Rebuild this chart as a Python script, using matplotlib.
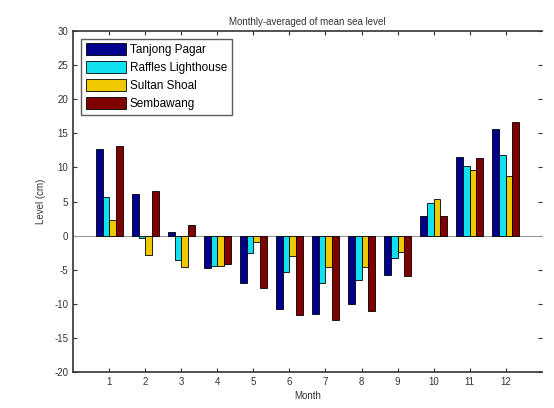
import numpy as np
import matplotlib
matplotlib.use('Agg')
import matplotlib.pyplot as plt

plt.rcParams['font.family'] = ['Liberation Sans', 'DejaVu Sans']
plt.rcParams['axes.unicode_minus'] = False

months = [1, 2, 3, 4, 5, 6, 7, 8, 9, 10, 11, 12]
stations = ['Tanjong Pagar', 'Raffles Lighthouse', 'Sultan Shoal', 'Sembawang']
tanjong = [12.7, 6.1, 0.5, -4.7, -7.0, -10.7, -11.5, -10.0, -5.7, 2.9, 11.5, 15.7]
raffles = [5.6, -0.3, -3.5, -4.5, -2.6, -5.3, -6.9, -6.5, -3.3, 4.8, 10.2, 11.8]
sultan = [2.3, -2.9, -4.6, -4.4, -0.9, -3.0, -4.6, -4.6, -2.4, 5.4, 9.6, 8.7]
sembawang = [13.1, 6.5, 1.6, -4.2, -7.7, -11.7, -12.4, -11.1, -5.9, 2.9, 11.4, 16.7]
colors = ['#00008f', '#10e0f0', '#f0c800', '#800000']

series = [tanjong, raffles, sultan, sembawang]

fig = plt.figure(figsize=(5.54, 4.08), dpi=100)
ax = fig.add_axes([0.132, 0.088, 0.846, 0.836])

x = np.array(months)
w = 0.185
for i, vals in enumerate(series):
    ax.bar(x + (i - 1.5) * w, vals, w, color=colors[i], edgecolor='black',
           linewidth=0.6, label=stations[i], zorder=3)
ax.axhline(0, color='#999999', linewidth=0.8, zorder=2)

ax.set_xlim(0, 13)
ax.set_ylim(-20, 30)
ax.set_xticks(months)
ax.set_yticks(range(-20, 31, 5))
ax.tick_params(direction='in', labelsize=7, top=True, right=True, length=3, colors='#333333')
for s in ['left', 'bottom', 'top']:
    ax.spines[s].set_linewidth(1.2)
    ax.spines[s].set_color('#333333')
ax.spines['right'].set_visible(False)

ax.set_title('Monthly-averaged of mean sea level', fontsize=7, pad=4, color='#333333')
ax.set_xlabel('Month', fontsize=7, labelpad=3, color='#333333')
ax.set_ylabel('Level (cm)', fontsize=7, labelpad=6, color='#333333')

leg = ax.legend(loc='upper left', fontsize=8.5, frameon=True, fancybox=False,
                edgecolor='#333333', handlelength=3.4, handleheight=1.2,
                borderpad=0.4, labelspacing=0.42, handletextpad=0.3,
                bbox_to_anchor=(0.005, 0.995))
leg.get_frame().set_linewidth(1.0)

fig.savefig('out.png', dpi=100)
